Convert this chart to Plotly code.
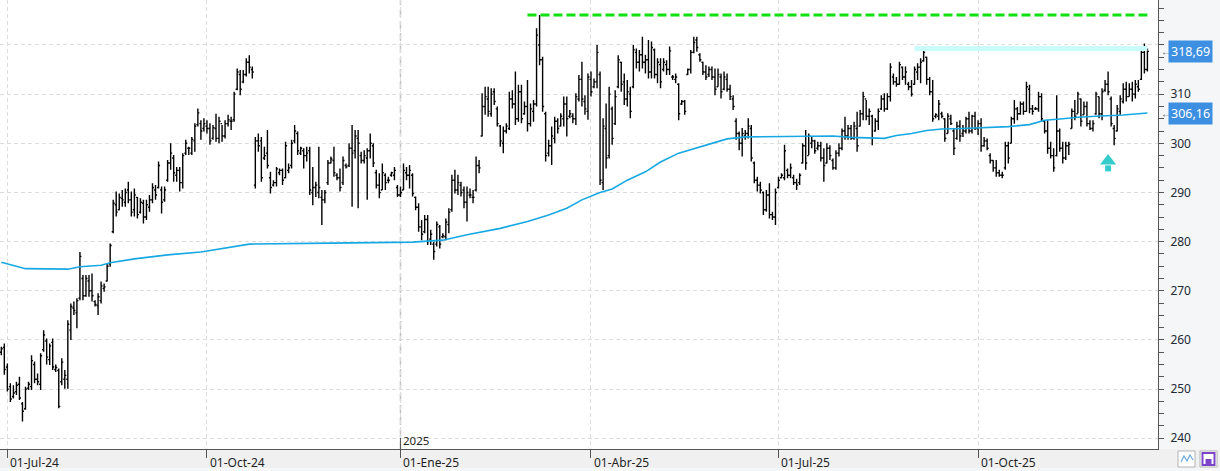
import pandas as pd
import plotly.graph_objects as go

# ---------------- data ----------------
FIRST_SESSION = "2024-06-27"
HOLIDAYS = ["2024-12-25", "2024-12-26", "2025-01-01", "2025-04-18", "2025-04-21", "2025-05-01"]

OPEN = [
    257.5, 258.5, 254.5, 250.5, 248.5, 249.5, 251.0, 247.0, 246.0, 250.2,
    250.5, 255.0, 252.0, 251.0, 258.0, 259.8, 256.0, 259.5, 254.0, 253.8,
    251.5, 252.0, 252.0, 262.0, 266.5, 265.5, 268.5, 272.5, 269.0, 272.0,
    270.0, 267.8, 267.0, 268.0, 270.5, 272.0, 275.5, 282.0, 287.5, 286.5,
    288.8, 288.0, 290.5, 288.5, 286.5, 289.0, 286.0, 287.8, 285.0, 287.0,
    288.5, 290.5, 291.0, 290.5, 288.5, 292.5, 296.0, 297.0, 293.5, 294.5,
    292.0, 298.0, 299.0, 298.0, 300.5, 303.8, 304.0, 303.0, 303.5, 303.0,
    301.0, 303.0, 301.0, 304.0, 301.5, 304.0, 304.5, 304.8, 311.0, 314.0,
    312.5, 314.0, 316.5, 315.0, 291.5, 300.5, 300.5, 297.0, 298.0, 293.0,
    291.5, 292.0, 294.0, 294.5, 293.0, 294.5, 295.5, 300.5, 302.0, 298.0,
    298.5, 297.5, 298.5, 290.0, 291.0, 290.0, 289.0, 288.5, 292.0, 296.0,
    296.5, 293.5, 293.0, 292.0, 295.5, 295.5, 299.0, 298.5, 301.0, 297.5,
    296.5, 297.0, 298.5, 299.5, 294.0, 291.5, 290.5, 293.5, 292.5, 293.5,
    293.5, 291.0, 289.5, 290.5, 294.0, 293.5, 293.5, 289.0, 287.0, 283.0,
    282.0, 284.5, 280.5, 279.5, 279.5, 283.0, 281.0, 281.0, 283.5, 286.5,
    292.5, 290.5, 291.5, 290.5, 288.0, 289.5, 289.0, 290.5, 295.5, 301.5,
    307.5, 309.0, 306.0, 310.5, 307.0, 303.5, 300.0, 302.5, 303.0, 309.0,
    308.0, 305.0, 310.5, 306.0, 307.5, 304.0, 306.5, 308.0, 320.0, 317.0,
    306.0, 298.0, 299.5, 301.0, 304.5, 303.5, 305.0, 308.0, 305.5, 305.5,
    305.0, 309.0, 313.0, 308.5, 306.5, 313.0, 311.5, 312.5, 314.0, 292.0,
    303.0, 297.5, 307.0, 304.0, 311.5, 316.5, 312.5, 309.0, 310.0, 311.5,
    318.5, 316.5, 318.0, 316.5, 317.0, 314.5, 319.0, 314.0, 316.0, 315.0,
    316.0, 315.0, 313.5, 313.0, 312.0, 308.0, 308.5, 314.0, 315.0, 318.5,
    321.0, 318.0, 316.5, 314.5, 314.0, 315.0, 313.5, 311.5, 313.5, 311.0,
    313.0, 311.0, 309.0, 304.5, 302.0, 300.0, 301.5, 302.0, 303.0, 296.0,
    292.5, 291.5, 290.0, 286.5, 289.5, 285.5, 285.0, 291.0, 293.0, 293.0,
    294.5, 293.5, 293.0, 292.0, 292.0, 296.0, 299.5, 297.5, 300.0, 300.5,
    299.0, 299.5, 297.0, 296.0, 299.0, 296.5, 295.0, 298.0, 299.0, 302.5,
    301.5, 303.0, 301.0, 303.0, 303.5, 306.0, 309.0, 305.5, 305.5, 302.5,
    304.5, 307.0, 309.0, 307.0, 309.5, 313.5, 312.5, 312.0, 315.5, 313.5,
    312.0, 311.5, 312.0, 314.5, 315.5, 316.8, 317.5, 313.0, 310.5, 305.5,
    305.5, 306.0, 305.0, 302.0, 305.0, 302.5, 301.0, 303.5, 302.0, 302.5,
    305.0, 302.5, 305.5, 303.0, 304.0, 299.5, 300.5, 297.5, 296.5, 295.0,
    294.0, 293.5, 295.0, 299.5, 300.0, 305.0, 307.0, 306.0, 308.0, 306.5,
    311.0, 307.0, 307.0, 307.0, 309.5, 304.5, 302.5, 299.0, 297.5, 297.5,
    302.5, 299.0, 297.0, 299.5, 303.0, 306.5, 306.0, 309.0, 305.8, 307.5,
    304.0, 303.0, 306.0, 309.5, 306.0, 310.8, 312.0, 309.0, 303.0, 302.5,
    306.5, 308.5, 311.0, 309.5, 311.0, 310.0, 311.5, 313.0, 318.5, 315.0,
]

HIGH = [
    258.6, 259.3, 255.2, 251.2, 250.8, 251.5, 252.5, 247.4, 250.5, 251.5,
    256.9, 255.6, 253.2, 257.3, 262.0, 260.3, 259.3, 260.3, 255.0, 254.2,
    256.3, 253.9, 264.0, 267.4, 267.8, 268.5, 277.9, 273.2, 273.2, 273.2,
    273.5, 268.1, 269.5, 271.9, 271.5, 275.6, 279.6, 288.5, 290.2, 289.8,
    290.5, 290.8, 292.2, 290.2, 290.8, 289.1, 288.8, 288.5, 288.5, 289.5,
    291.9, 291.5, 296.3, 291.2, 291.2, 296.6, 300.0, 297.6, 295.2, 295.2,
    298.0, 300.7, 299.3, 301.3, 304.1, 307.1, 304.7, 305.1, 304.7, 304.1,
    303.7, 306.0, 305.4, 303.7, 304.7, 305.8, 305.4, 310.5, 315.2, 314.9,
    314.9, 317.3, 317.9, 315.6, 301.3, 302.0, 301.3, 299.3, 302.7, 294.2,
    292.5, 295.2, 294.9, 294.9, 300.3, 295.9, 300.7, 303.7, 302.4, 299.3,
    299.0, 299.3, 299.3, 295.2, 292.2, 299.3, 290.5, 290.5, 296.6, 297.3,
    299.3, 293.9, 294.9, 297.3, 295.9, 300.0, 303.7, 302.7, 302.7, 298.3,
    298.6, 299.0, 302.0, 300.0, 294.6, 293.9, 295.9, 293.9, 293.2, 294.2,
    295.2, 291.5, 291.2, 295.9, 295.2, 295.6, 293.9, 289.2, 287.8, 284.4,
    285.4, 285.4, 282.4, 280.0, 284.1, 283.4, 281.7, 284.7, 286.8, 293.6,
    294.6, 293.6, 292.2, 291.2, 291.2, 290.8, 290.5, 297.3, 296.6, 310.2,
    311.5, 311.5, 311.2, 311.2, 307.5, 303.7, 303.4, 304.1, 310.5, 310.8,
    314.6, 311.9, 311.9, 308.5, 312.9, 308.1, 308.8, 323.4, 326.1, 317.6,
    306.4, 300.7, 303.4, 305.4, 305.1, 306.1, 309.5, 309.5, 306.8, 306.1,
    310.2, 313.9, 316.6, 309.8, 314.2, 314.6, 313.2, 320.0, 314.6, 305.1,
    308.1, 311.5, 307.5, 310.8, 317.9, 316.6, 314.2, 312.9, 311.5, 320.0,
    319.3, 319.0, 321.7, 318.0, 321.0, 320.7, 319.3, 317.3, 317.3, 317.3,
    316.9, 319.7, 313.9, 314.2, 312.2, 308.8, 308.8, 315.2, 319.0, 321.7,
    321.7, 318.3, 316.6, 315.9, 315.6, 315.6, 315.2, 315.2, 314.2, 314.6,
    314.2, 311.9, 309.8, 305.1, 302.4, 303.1, 302.7, 305.1, 303.7, 296.3,
    293.2, 292.2, 290.2, 290.5, 291.9, 286.1, 290.8, 293.2, 293.9, 299.7,
    294.9, 295.9, 293.6, 292.8, 293.9, 300.0, 302.7, 302.0, 301.3, 300.7,
    300.3, 300.3, 299.0, 300.0, 299.6, 296.9, 298.6, 300.0, 303.0, 305.4,
    303.7, 303.7, 304.4, 306.4, 306.8, 310.5, 308.8, 307.1, 305.8, 305.1,
    307.1, 309.8, 310.2, 310.2, 316.3, 314.2, 313.5, 316.6, 315.6, 315.6,
    312.5, 312.9, 315.6, 316.3, 317.3, 319.3, 317.6, 313.5, 312.9, 306.1,
    308.8, 306.4, 305.1, 306.1, 305.8, 303.0, 304.4, 304.7, 303.7, 305.4,
    306.4, 305.8, 306.4, 304.7, 305.1, 301.3, 301.0, 298.0, 296.6, 296.6,
    294.6, 294.2, 300.3, 300.3, 305.4, 308.8, 307.4, 308.5, 308.5, 312.5,
    311.9, 307.8, 307.4, 310.5, 310.2, 304.7, 304.7, 300.3, 299.0, 309.8,
    303.0, 300.3, 300.3, 300.3, 307.1, 308.8, 310.5, 309.1, 308.5, 308.5,
    304.7, 304.7, 310.5, 309.5, 311.2, 312.9, 314.6, 309.5, 303.7, 307.8,
    309.8, 312.2, 312.5, 312.2, 312.5, 312.9, 312.9, 319.7, 320.3, 319.3,
]

LOW = [
    256.9, 252.9, 249.5, 247.4, 248.1, 248.8, 247.8, 243.4, 245.8, 249.8,
    249.8, 251.2, 250.8, 249.8, 257.6, 255.0, 254.9, 253.9, 253.5, 246.1,
    250.8, 250.1, 250.1, 260.0, 265.1, 262.4, 268.1, 268.1, 268.8, 268.8,
    267.8, 266.8, 265.1, 267.4, 269.8, 271.9, 274.9, 281.7, 285.1, 286.4,
    287.1, 287.1, 287.8, 285.1, 285.1, 284.7, 285.7, 283.7, 284.4, 286.1,
    287.8, 288.5, 290.8, 285.7, 288.1, 292.2, 294.6, 292.2, 292.2, 290.2,
    290.8, 297.6, 297.6, 297.6, 298.3, 303.4, 300.7, 302.4, 302.0, 299.7,
    300.7, 300.3, 300.0, 300.3, 301.0, 303.4, 302.7, 304.4, 310.8, 309.8,
    312.2, 313.6, 314.2, 313.2, 290.8, 298.3, 292.2, 296.6, 294.9, 289.8,
    291.2, 291.2, 293.5, 291.5, 292.9, 293.9, 294.9, 300.0, 297.6, 297.6,
    294.9, 296.3, 289.5, 287.4, 289.1, 288.8, 283.4, 287.8, 291.5, 295.9,
    293.2, 292.5, 290.2, 291.5, 294.9, 295.2, 287.1, 296.9, 286.8, 295.9,
    295.9, 288.5, 296.9, 295.2, 290.8, 288.8, 290.5, 290.5, 291.9, 293.2,
    292.5, 289.1, 289.1, 290.5, 292.5, 290.8, 289.2, 286.4, 282.0, 280.3,
    281.7, 279.3, 279.3, 276.3, 279.0, 278.6, 280.7, 280.3, 281.7, 286.1,
    289.8, 289.5, 289.2, 286.8, 284.1, 288.8, 287.8, 290.2, 293.9, 301.4,
    305.8, 305.4, 305.4, 307.8, 303.4, 299.3, 298.0, 302.0, 302.7, 307.1,
    303.7, 304.4, 304.1, 305.8, 302.4, 303.4, 304.4, 307.5, 315.9, 306.4,
    296.3, 297.3, 295.6, 300.0, 302.0, 303.4, 303.4, 301.4, 305.1, 304.1,
    303.7, 308.5, 307.5, 305.8, 304.8, 309.5, 311.2, 311.2, 291.5, 290.5,
    294.9, 296.9, 299.7, 303.7, 311.2, 310.5, 307.8, 307.5, 305.1, 311.2,
    315.2, 314.6, 315.2, 314.2, 313.2, 313.2, 313.2, 312.2, 311.2, 314.6,
    313.9, 313.9, 312.9, 312.2, 304.7, 307.8, 305.8, 313.9, 314.2, 318.3,
    318.6, 316.6, 313.9, 312.9, 313.5, 312.9, 309.8, 311.5, 309.1, 310.8,
    310.5, 308.8, 306.8, 300.7, 298.6, 297.3, 300.7, 301.0, 296.3, 291.9,
    290.2, 289.8, 285.4, 286.1, 284.7, 284.4, 283.4, 290.8, 292.9, 292.5,
    292.9, 292.9, 291.5, 290.5, 291.5, 295.9, 294.6, 297.6, 299.0, 297.9,
    298.6, 296.3, 292.2, 295.9, 296.6, 294.6, 294.6, 297.3, 298.6, 300.7,
    300.7, 300.7, 300.7, 298.3, 303.4, 304.7, 304.7, 303.7, 299.6, 302.4,
    302.7, 306.8, 306.4, 306.8, 308.5, 311.9, 311.5, 311.9, 312.9, 311.9,
    310.8, 309.5, 311.9, 312.9, 312.2, 316.6, 311.9, 309.8, 304.4, 305.1,
    304.7, 305.1, 300.3, 302.0, 303.7, 297.6, 300.7, 300.3, 301.3, 302.0,
    302.0, 302.0, 302.7, 301.7, 298.3, 299.3, 298.6, 295.9, 294.2, 293.2,
    293.2, 292.9, 294.6, 295.9, 300.0, 304.0, 304.7, 305.8, 305.8, 306.4,
    306.1, 305.8, 306.8, 306.4, 304.4, 302.0, 297.9, 296.9, 294.2, 297.3,
    298.3, 295.9, 296.6, 297.6, 303.0, 304.7, 306.1, 303.4, 305.8, 303.4,
    302.7, 302.4, 305.8, 305.1, 304.7, 310.5, 309.8, 303.4, 299.6, 302.4,
    305.8, 308.1, 308.5, 309.5, 308.5, 309.1, 310.5, 312.9, 314.2, 314.6,
]

CLOSE = [
    258.2, 254.0, 250.0, 248.0, 249.2, 250.8, 248.2, 245.5, 250.0, 251.0,
    255.8, 252.0, 251.5, 256.8, 261.0, 256.5, 258.8, 254.5, 254.4, 246.5,
    255.5, 252.8, 263.2, 266.8, 266.0, 268.0, 277.0, 269.0, 272.5, 270.0,
    269.0, 267.2, 268.8, 271.0, 270.8, 275.0, 279.2, 287.8, 286.0, 289.0,
    288.5, 290.0, 288.5, 286.0, 289.5, 285.5, 288.0, 285.0, 287.5, 288.5,
    291.0, 289.5, 295.5, 288.0, 290.5, 296.0, 298.0, 294.0, 294.5, 292.0,
    297.5, 300.0, 299.0, 300.8, 303.5, 306.2, 302.5, 304.0, 303.0, 300.5,
    303.2, 301.0, 304.5, 301.5, 304.0, 304.8, 304.5, 310.0, 314.5, 311.0,
    314.0, 316.5, 315.5, 314.5, 300.5, 299.5, 293.0, 297.5, 295.5, 291.0,
    292.0, 294.8, 294.5, 292.5, 299.5, 295.0, 300.0, 302.5, 298.5, 299.0,
    297.5, 298.0, 290.5, 291.0, 291.5, 291.0, 288.5, 290.0, 296.0, 296.8,
    294.0, 293.0, 291.0, 296.5, 295.2, 299.0, 298.0, 301.5, 300.0, 296.5,
    297.5, 298.5, 300.0, 296.0, 291.5, 290.0, 294.0, 292.0, 292.5, 294.0,
    294.5, 289.5, 290.0, 294.5, 293.5, 294.5, 289.8, 287.0, 283.0, 281.5,
    284.5, 280.0, 281.5, 278.0, 283.5, 279.5, 281.2, 284.0, 286.0, 292.5,
    290.5, 292.0, 290.0, 288.0, 290.0, 289.5, 289.0, 295.5, 295.0, 307.5,
    309.5, 306.5, 310.0, 308.5, 304.0, 300.5, 302.5, 303.5, 309.0, 308.0,
    305.0, 310.5, 305.0, 307.5, 304.0, 307.0, 308.0, 322.0, 317.0, 307.5,
    297.5, 299.5, 301.5, 304.5, 303.0, 305.5, 308.0, 305.0, 306.0, 305.0,
    309.5, 313.0, 309.0, 307.0, 313.5, 310.5, 312.5, 318.5, 292.5, 303.5,
    297.0, 310.0, 301.0, 309.5, 317.0, 312.0, 309.0, 310.5, 306.5, 319.0,
    316.5, 318.0, 316.5, 317.0, 314.5, 319.5, 314.0, 316.5, 312.5, 316.5,
    315.0, 318.8, 313.5, 313.5, 306.0, 308.5, 306.5, 315.0, 318.5, 320.5,
    319.5, 317.0, 314.5, 313.5, 315.0, 313.5, 311.0, 314.0, 310.5, 313.5,
    311.0, 309.5, 307.5, 302.0, 300.0, 302.0, 302.0, 303.5, 297.0, 292.5,
    291.5, 290.5, 286.5, 289.5, 285.5, 285.0, 290.0, 292.5, 293.5, 298.5,
    293.5, 295.0, 292.0, 291.5, 293.5, 299.5, 296.0, 301.5, 300.5, 298.5,
    299.5, 297.0, 295.5, 299.0, 297.5, 295.0, 298.0, 299.0, 302.5, 301.5,
    303.0, 301.0, 303.5, 299.5, 306.0, 309.5, 305.5, 306.5, 301.0, 304.5,
    306.5, 309.0, 307.0, 309.5, 315.5, 312.5, 312.0, 316.0, 313.5, 314.5,
    311.5, 310.0, 315.0, 315.5, 316.5, 318.5, 313.0, 310.5, 305.0, 305.8,
    308.0, 305.5, 301.0, 305.5, 304.0, 299.0, 303.5, 301.5, 302.5, 305.0,
    302.5, 305.5, 303.0, 304.0, 299.5, 300.5, 299.0, 296.5, 295.0, 294.0,
    293.5, 293.5, 299.5, 297.0, 305.0, 307.0, 306.0, 308.0, 306.5, 311.5,
    307.0, 306.5, 307.0, 309.5, 305.0, 302.5, 299.0, 297.5, 295.0, 302.5,
    299.0, 297.0, 299.5, 299.8, 306.5, 305.5, 310.0, 304.5, 307.5, 304.0,
    303.0, 304.0, 310.0, 306.0, 310.5, 312.0, 310.5, 304.0, 301.0, 307.0,
    309.0, 311.0, 309.5, 311.0, 310.0, 312.0, 311.0, 318.5, 315.0, 318.69,
]

# moving average read at selected sessions (session index, value)
MA_SESSION = [0, 5, 8, 22, 26, 33, 36, 44, 49, 55, 66, 82, 109, 136, 146, 154, 165, 174,
              181, 187, 192, 198, 202, 207, 213, 218, 224, 229, 235, 240, 246, 264, 275,
              281, 292, 296, 301, 306, 311, 318, 330, 333, 340, 345, 351, 356, 362, 371, 379]
MA_VALUE = [275.8, 274.9, 274.5, 274.4, 274.9, 275.2, 275.7, 276.5, 276.9, 277.3, 277.9,
            279.5, 279.7, 279.9, 280.3, 281.4, 282.7, 284.1, 285.4, 286.8, 288.5, 290.0,
            290.7, 292.5, 294.2, 296.2, 298.0, 298.9, 300.0, 300.9, 301.3, 301.5, 301.5,
            301.2, 301.0, 301.6, 302.0, 302.6, 302.9, 303.0, 303.2, 303.4, 303.8, 304.7,
            305.0, 305.3, 305.5, 305.75, 306.16]

TICK_DATES = ["2024-07-01", "2024-10-01", "2025-01-02", "2025-04-01", "2025-07-01", "2025-10-01"]
TICK_TEXT = ["01-Jul-24", "01-Oct-24", "01-Ene-25", "01-Abr-25", "01-Jul-25", "01-Oct-25"]
YEAR_DATE = "2025-01-02"
YEAR_TEXT = "2025"

Y_TICKS = [240, 250, 260, 270, 280, 290, 300, 310, 320]
Y_TICK_TEXT = ["240", "250", "260", "270", "280", "290", "300", "310", ""]  # 320 hidden by price box

TOP_LEVEL = 326.1          # green dashed resistance
TOP_FROM = 174
RES_LEVEL = 319.3          # light cyan resistance
RES_FROM = 302
SIGNAL_SESSION = 366       # up arrow
SIGNAL_HEAD = 296.4
SIGNAL_STEM = 294.9

# ---------------- figure ----------------
dates = pd.bdate_range(FIRST_SESSION, periods=len(CLOSE), freq="C", holidays=HOLIDAYS)
DATES = [d.strftime("%Y-%m-%d") for d in dates]

PW, PH = 1158.0, 449.0   # plot area size in px
def px(x):
    return x / PW
def py(y):
    return 1 - y / PH

fig = go.Figure()

fig.add_trace(go.Ohlc(
    x=DATES, open=OPEN, high=HIGH, low=LOW, close=CLOSE,
    increasing=dict(line=dict(color="#000000", width=1.4)),
    decreasing=dict(line=dict(color="#000000", width=1.4)),
    tickwidth=0.5, hoverinfo="skip"))

fig.add_trace(go.Scatter(
    x=[DATES[RES_FROM], DATES[-1]], y=[RES_LEVEL, RES_LEVEL], mode="lines",
    line=dict(color="#c9fbfb", width=5), hoverinfo="skip"))

fig.add_trace(go.Scatter(
    x=[DATES[i] for i in MA_SESSION], y=MA_VALUE, mode="lines",
    line=dict(color="#17a8e3", width=1.6), hoverinfo="skip"))

fig.add_trace(go.Scatter(
    x=[DATES[TOP_FROM], DATES[-1]], y=[TOP_LEVEL, TOP_LEVEL], mode="lines",
    line=dict(color="#11e011", width=3, dash="9px,4px"), hoverinfo="skip"))

fig.add_trace(go.Scatter(
    x=[DATES[SIGNAL_SESSION]], y=[SIGNAL_STEM], mode="markers",
    marker=dict(symbol="square", size=6, color="#36cccc", line=dict(width=0)), hoverinfo="skip"))
fig.add_trace(go.Scatter(
    x=[DATES[SIGNAL_SESSION]], y=[SIGNAL_HEAD], mode="markers",
    marker=dict(symbol="triangle-up", size=14, color="#36cccc", line=dict(width=0)), hoverinfo="skip"))

# draw the cyan band beneath the bars
fig.data = (fig.data[1],) + (fig.data[0],) + fig.data[2:]

ann = []
for d, t in zip(TICK_DATES, TICK_TEXT):
    ann.append(dict(x=d, xref="x", y=0, yref="paper", text=t, showarrow=False,
                    xanchor="left", yanchor="top", xshift=1, yshift=-3,
                    font=dict(size=12, color="#1f1f1f")))
ann.append(dict(x=YEAR_DATE, xref="x", y=py(440), yref="paper", text=YEAR_TEXT, showarrow=False,
                xanchor="left", yanchor="middle", xshift=1, font=dict(size=11.5, color="#1f1f1f")))

last_close = CLOSE[-1]
last_ma = MA_VALUE[-1]
for v in (last_close, last_ma):
    ann.append(dict(x=px(1168), xref="paper", y=v, yref="y", text=f"{v:.2f}".replace(".", ","),
                    showarrow=False, xanchor="left", yanchor="middle", bgcolor="#3d8fe2",
                    borderpad=2, font=dict(size=12.5, color="#ffffff")))
    ann.append(dict(x=px(1158.5), xref="paper", y=v, yref="y", text="←", showarrow=False,
                    xanchor="left", yanchor="middle", font=dict(size=10, color="#555555")))
ann.append(dict(x=px(1166), xref="paper", y=330, yref="y", text="330", showarrow=False,
                xanchor="left", yanchor="middle", font=dict(size=12, color="#222a35")))

shapes = [
    # bottom band
    dict(type="rect", xref="paper", yref="paper", x0=0, x1=px(1220), y0=py(468), y1=0,
         fillcolor="#f0f0f0", line=dict(width=0), layer="below"),
    # year separator
    dict(type="line", xref="x", yref="paper", x0=YEAR_DATE, x1=YEAR_DATE, y0=0, y1=1,
         line=dict(color="#c2c2c2", width=1.5, dash="8px,4px"), layer="below"),
    dict(type="line", xref="x", yref="paper", x0=YEAR_DATE, x1=YEAR_DATE, y0=0, y1=py(438),
         line=dict(color="#555555", width=1)),
    # icons
    dict(type="rect", xref="paper", yref="paper", x0=px(1178), x1=px(1195), y0=py(467), y1=py(451),
         fillcolor="#ffffff", line=dict(color="#b4b4b4", width=1)),
    dict(type="path", xref="paper", yref="paper",
         path=f"M{px(1181)},{py(462)} L{px(1184)},{py(456)} L{px(1187)},{py(461)} L{px(1190)},{py(455)} L{px(1193)},{py(460)}",
         line=dict(color="#6fa8dc", width=1.2)),
    dict(type="rect", xref="paper", yref="paper", x0=px(1200), x1=px(1217), y0=py(467), y1=py(451),
         fillcolor="#ffffff", line=dict(color="#b4b4b4", width=1)),
    dict(type="rect", xref="paper", yref="paper", x0=px(1202.5), x1=px(1214.5), y0=py(465), y1=py(453),
         fillcolor="rgba(0,0,0,0)", line=dict(color="#7b44c8", width=2)),
    dict(type="rect", xref="paper", yref="paper", x0=px(1205.5), x1=px(1211.5), y0=py(464), y1=py(459),
         fillcolor="#7b44c8", line=dict(width=0)),
]

fig.update_layout(
    width=1220, height=471, autosize=False,
    margin=dict(l=0, r=62, t=0, b=22, pad=0),
    paper_bgcolor="#f5f6f8", plot_bgcolor="#ffffff",
    showlegend=False, hovermode=False,
    font=dict(family="Segoe UI, Noto Sans, sans-serif", size=12, color="#222a35"),
    xaxis=dict(type="category", categoryorder="array", categoryarray=DATES,
               range=[-0.43, 382.5], tickvals=TICK_DATES, showticklabels=False,
               ticks="outside", ticklen=8, tickcolor="#555555", tickwidth=1,
               showgrid=True, gridcolor="#dddddd", griddash="4px,3px", gridwidth=1,
               showline=True, linecolor="#555555", linewidth=1, zeroline=False,
               rangeslider=dict(visible=False), fixedrange=True),
    yaxis=dict(side="right", range=[237.82, 329.15], tickvals=Y_TICKS, ticktext=Y_TICK_TEXT,
               ticks="outside", ticklen=5, tickcolor="#555555",
               showgrid=True, gridcolor="#dddddd", griddash="4px,3px", gridwidth=1,
               showline=True, linecolor="#555555", linewidth=1, zeroline=False,
               minor=dict(dtick=2.5, tick0=0, ticks="outside", ticklen=5, tickcolor="#555555", showgrid=False),
               tickfont=dict(size=12, color="#222a35"), ticklabelstandoff=4, fixedrange=True),
    annotations=ann, shapes=shapes,
)

fig.write_html("out.html", config={"displayModeBar": False, "staticPlot": True})
